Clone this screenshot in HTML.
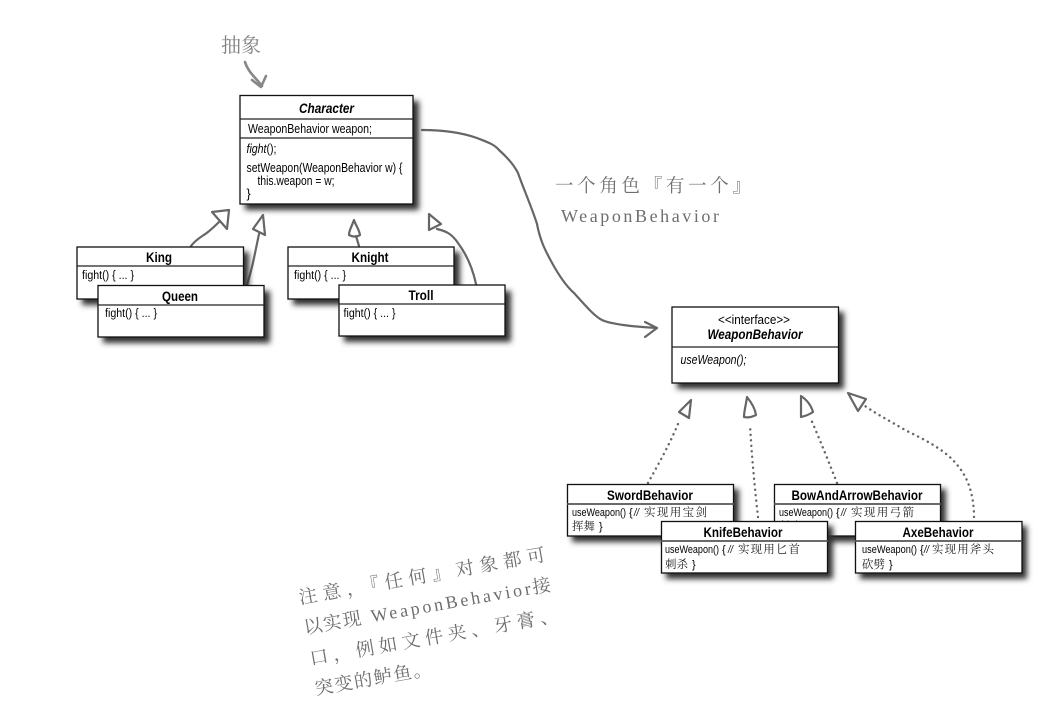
<!DOCTYPE html>
<html><head><meta charset="utf-8">
<style>
html,body{margin:0;padding:0;background:#fff;width:1039px;height:721px;overflow:hidden}
svg{display:block}
.s{font-family:"Liberation Sans","Noto Sans CJK SC",sans-serif;fill:#000}
.t{font-size:13.5px;font-weight:bold;text-anchor:middle}
.b{font-size:12.5px}
.c{font-size:11.5px}
.u{font-size:11px}
.z{font-family:"Noto Serif CJK SC",serif;font-size:11.5px;fill:#222}
.h{font-family:"Noto Serif CJK SC",serif;fill:#6e6e6e}
.m{font-family:"Liberation Serif",serif;fill:#6e6e6e}
.box{fill:#fff;stroke:#111;stroke-width:1.3}
.div{stroke:#222;stroke-width:1.3}
.d2{stroke:#555;stroke-width:1.7}
.sh{fill:#333;filter:url(#bl)}
.ar{fill:none;stroke:#666;stroke-width:2.2;stroke-linecap:round;stroke-linejoin:round}
.dot{fill:none;stroke:#666;stroke-width:2.4;stroke-linecap:round;stroke-dasharray:.1 5.4}
</style></head><body>
<svg width="1039" height="721" viewBox="0 0 1039 721" xmlns="http://www.w3.org/2000/svg">
<defs><filter id="bl" x="-20%" y="-30%" width="140%" height="160%"><feGaussianBlur stdDeviation="3"/></filter></defs>

<!-- Top annotation -->
<text class="h" x="221" y="52" font-size="20" textLength="40" style="fill:#808080">抽象</text>
<path class="ar" d="M245 62C248 72 256 78 262 86" style="stroke:#888;stroke-width:2.6"/>
<path class="ar" d="M252 80L261 87L266 76" style="stroke:#888;stroke-width:2.6"/>

<!-- Inheritance arrows -->
<path class="ar" d="M191 246C196 239 203 236 208 232C213 228 216 225 220 221"/>
<path class="ar" d="M212 212L229 210L227 229Z"/>
<path class="ar" d="M247 285C250 275 252 268 254 258L259 234"/>
<path class="ar" d="M263 215L253 229L265 235Z"/>
<path class="ar" d="M359 246L356 236"/>
<path class="ar" d="M354 220C352 226 349 230 349 235C353 237 357 237 360 235C359 229 356 226 354 220Z"/>
<path class="ar" d="M476 284C473 270 467 255 458 243C452 234 446 231 437 229"/>
<path class="ar" d="M429 214L429 230L441 224Z"/>

<!-- Main association -->
<path class="ar" d="M422 130C440 130 460 132 477 138C487 142 494 144 499 150C508 158 514 165 518 173C524 190 532 208 537 224C540 240 545 250 551 261C558 274 566 286 574 293C584 304 594 316 602 320C610 324 635 327 657 328"/>
<path class="ar" d="M645 322L657 328L645 337"/>

<!-- Dotted implementations -->
<path class="dot" d="M648 483C655 470 668 448 678 424"/>
<path class="ar" d="M691 400L679 412L689 418Z"/>
<path class="dot" d="M758 517C755 490 752 460 750 425"/>
<path class="ar" d="M747 397C746 405 744 411 744 417C748 418 752 417 756 415C755 408 751 402 747 397Z"/>
<path class="dot" d="M837 483C830 465 820 440 810 417"/>
<path class="ar" d="M801 396L801 417C806 416 810 414 813 412C811 405 807 400 801 396Z"/>
<path class="dot" d="M974 517C974 495 968 478 958 466C946 450 925 440 905 430C890 421 878 415 865 406"/>
<path class="ar" d="M848 393L866 399L858 411Z"/>

<!-- Character -->
<rect class="sh" x="245" y="101" width="174" height="109"/>
<rect class="box" x="240" y="95.500" width="173" height="108.500"/>
<line class="div" x1="240" x2="413" y1="119" y2="119"/>
<line class="div" x1="240" x2="413" y1="138" y2="138"/>
<text class="s t" x="326.500" y="113" font-style="italic" textLength="55" lengthAdjust="spacingAndGlyphs">Character</text>
<text class="s b" x="248" y="133" textLength="124" lengthAdjust="spacingAndGlyphs">WeaponBehavior weapon;</text>
<text class="s b" x="246.500" y="153" textLength="30" lengthAdjust="spacingAndGlyphs"><tspan font-style="italic">fight</tspan>();</text>
<text class="s b" x="246.500" y="172" textLength="156" lengthAdjust="spacingAndGlyphs">setWeapon(WeaponBehavior w) {</text>
<text class="s b" x="257.500" y="185" textLength="77" lengthAdjust="spacingAndGlyphs">this.weapon = w;</text>
<text class="s b" x="246.500" y="198">}</text>

<!-- King -->
<rect class="sh" x="82" y="252" width="167" height="53"/>
<rect class="box" x="77" y="247" width="166.500" height="52"/>
<line class="div" x1="77" x2="243" y1="266" y2="266"/>
<text class="s t" x="159" y="262" textLength="26" lengthAdjust="spacingAndGlyphs">King</text>
<text class="s c" x="82" y="279" textLength="52" lengthAdjust="spacingAndGlyphs">fight() { ... }</text>

<!-- Knight -->
<rect class="sh" x="293" y="252" width="167" height="53"/>
<rect class="box" x="288" y="247" width="166" height="52"/>
<line class="div" x1="288" x2="454" y1="266" y2="266"/>
<text class="s t" x="370" y="262" textLength="37" lengthAdjust="spacingAndGlyphs">Knight</text>
<text class="s c" x="294" y="279" textLength="52" lengthAdjust="spacingAndGlyphs">fight() { ... }</text>

<!-- Queen -->
<rect class="sh" x="103" y="291" width="167" height="52"/>
<rect class="box" x="98" y="285.500" width="166" height="51.500"/>
<line class="div" x1="98" x2="264" y1="305" y2="305"/>
<text class="s t" x="180" y="301" textLength="36" lengthAdjust="spacingAndGlyphs">Queen</text>
<text class="s c" x="105" y="317" textLength="52" lengthAdjust="spacingAndGlyphs">fight() { ... }</text>

<!-- Troll -->
<rect class="sh" x="344" y="291" width="167" height="51"/>
<rect class="box" x="339" y="285" width="166" height="51"/>
<line class="div" x1="339" x2="505" y1="304" y2="304"/>
<text class="s t" x="421" y="300" textLength="25" lengthAdjust="spacingAndGlyphs">Troll</text>
<text class="s c" x="343.500" y="317" textLength="52" lengthAdjust="spacingAndGlyphs">fight() { ... }</text>

<!-- Interface -->
<rect class="sh" x="677" y="312" width="167" height="77"/>
<rect class="box" x="672" y="307" width="166.500" height="76"/>
<line class="div" x1="672" x2="838" y1="347" y2="347"/>
<text class="s" x="754" y="324" font-size="13" text-anchor="middle" textLength="72" lengthAdjust="spacingAndGlyphs">&lt;&lt;interface&gt;&gt;</text>
<text class="s t" x="755" y="339" font-style="italic" textLength="95" lengthAdjust="spacingAndGlyphs">WeaponBehavior</text>
<text class="s b" x="680.500" y="364" font-style="italic" textLength="66" lengthAdjust="spacingAndGlyphs">useWeapon();</text>

<!-- SwordBehavior -->
<rect class="sh" x="572" y="489" width="167" height="53"/>
<rect class="box" x="567.500" y="484.500" width="166" height="51.500"/>
<line class="d2" x1="567" x2="734" y1="504" y2="504"/>
<text class="s t" x="650" y="500" textLength="86" lengthAdjust="spacingAndGlyphs">SwordBehavior</text>
<text class="s u" x="572" y="516" textLength="54" lengthAdjust="spacingAndGlyphs">useWeapon()</text>
<text class="s u" x="629" y="516">{</text>
<text class="s u" x="634" y="516" font-style="italic" textLength="5" lengthAdjust="spacingAndGlyphs">//</text>
<text class="z" x="644" y="516" textLength="63">实现用宝剑</text>
<text class="z" x="572" y="530" textLength="23">挥舞</text>
<text class="s u" x="599" y="530">}</text>

<!-- BowAndArrowBehavior -->
<rect class="sh" x="779" y="489" width="167" height="53"/>
<rect class="box" x="774.500" y="484.500" width="166" height="51.500"/>
<line class="d2" x1="774" x2="941" y1="504" y2="504"/>
<text class="s t" x="857" y="500" textLength="131" lengthAdjust="spacingAndGlyphs">BowAndArrowBehavior</text>
<text class="s u" x="779" y="516" textLength="54" lengthAdjust="spacingAndGlyphs">useWeapon()</text>
<text class="s u" x="836" y="516">{</text>
<text class="s u" x="841" y="516" font-style="italic" textLength="5" lengthAdjust="spacingAndGlyphs">//</text>
<text class="z" x="851" y="516" textLength="63">实现用弓箭</text>
<text class="z" x="779" y="530" textLength="23">射击</text>

<!-- KnifeBehavior -->
<rect class="sh" x="666" y="526" width="167" height="53"/>
<rect class="box" x="661.500" y="521.500" width="166" height="51.500"/>
<line class="d2" x1="661" x2="828" y1="541" y2="541"/>
<text class="s t" x="743" y="537" textLength="79" lengthAdjust="spacingAndGlyphs">KnifeBehavior</text>
<text class="s u" x="665" y="553" textLength="54" lengthAdjust="spacingAndGlyphs">useWeapon()</text>
<text class="s u" x="722" y="553">{</text>
<text class="s u" x="728" y="553" font-style="italic" textLength="5" lengthAdjust="spacingAndGlyphs">//</text>
<text class="z" x="738" y="553" textLength="62">实现用匕首</text>
<text class="z" x="665" y="568" textLength="23">刺杀</text>
<text class="s u" x="692" y="568">}</text>

<!-- AxeBehavior -->
<rect class="sh" x="860" y="526" width="167" height="53"/>
<rect class="box" x="855.500" y="521.500" width="166.500" height="51.500"/>
<line class="d2" x1="855" x2="1022" y1="541" y2="541"/>
<text class="s t" x="938" y="537" textLength="71" lengthAdjust="spacingAndGlyphs">AxeBehavior</text>
<text class="s u" x="862" y="553" textLength="55" lengthAdjust="spacingAndGlyphs">useWeapon()</text>
<text class="s u" x="920" y="553">{</text>
<text class="s u" x="924" y="553" font-style="italic" textLength="5" lengthAdjust="spacingAndGlyphs">//</text>
<text class="z" x="932" y="553" textLength="62">实现用斧头</text>
<text class="z" x="862" y="568" textLength="23">砍劈</text>
<text class="s u" x="889" y="568">}</text>

<!-- Has-a label -->
<text class="h" x="555" y="192" font-size="18.500" textLength="196">一个角色『有一个』</text>
<text class="m" x="561" y="222" font-size="18" textLength="158">WeaponBehavior</text>

<!-- Rotated note -->
<text class="h" font-size="18.500" transform="translate(300 604) rotate(-10)" textLength="250">注意，『任何』对象都可</text>
<g transform="translate(305 634) rotate(-10)">
<text class="h" font-size="18.500" x="0" y="0" textLength="58">以实现</text>
<text class="m" font-size="18" x="68" y="0" textLength="162">WeaponBehavior</text>
<text class="h" font-size="18.500" x="232" y="0">接</text>
</g>
<text class="h" font-size="18.500" transform="translate(311 665) rotate(-10)" textLength="252">口，例如文件夹、牙膏、</text>
<text class="h" font-size="18.500" transform="translate(316 695) rotate(-10)" textLength="118">突变的鲈鱼。</text>
</svg>
</body></html>
